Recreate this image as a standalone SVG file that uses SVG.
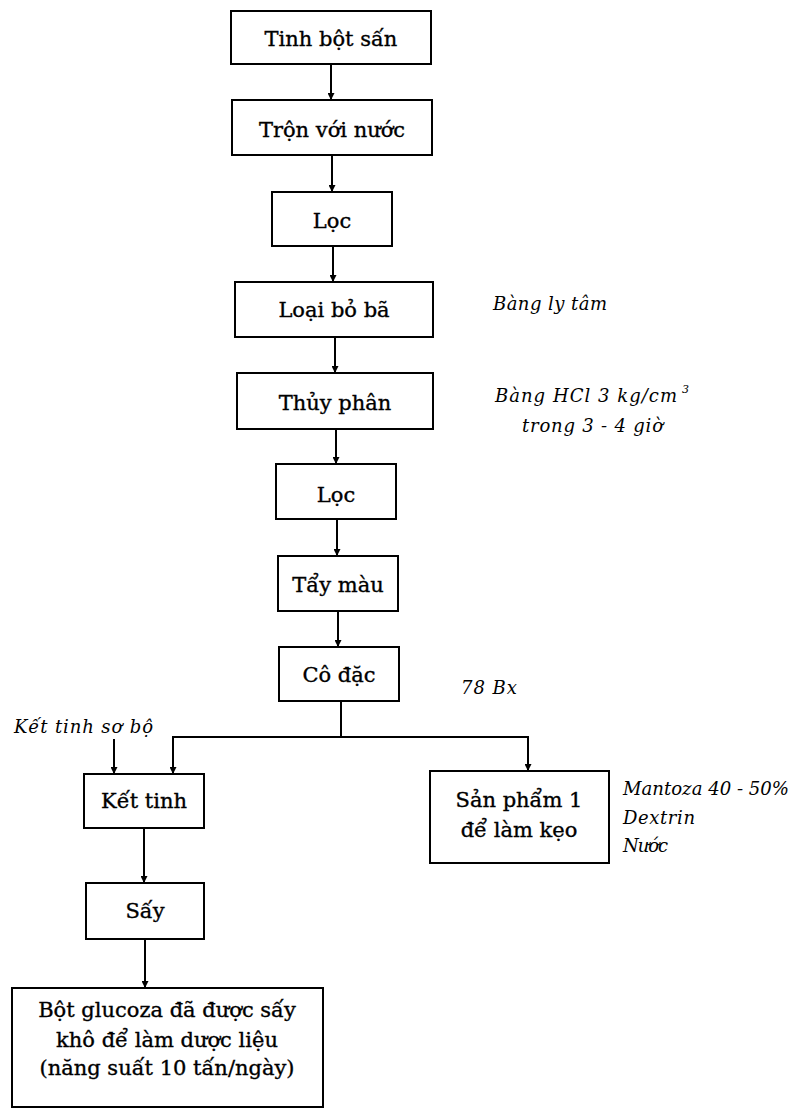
<svg xmlns="http://www.w3.org/2000/svg" width="794" height="1117" viewBox="0 0 794 1117">
<style>
.box{fill:#fff;stroke:#000;stroke-width:2}
.t{font-family:"DejaVu Serif","Liberation Serif",serif;font-size:21px;fill:#000;stroke:#000;stroke-width:0.35;text-anchor:middle}
.a{font-family:"DejaVu Serif","Liberation Serif",serif;font-style:italic;font-size:18px;fill:#000}
.sup{font-family:"DejaVu Serif","Liberation Serif",serif;font-style:italic;font-size:11px;fill:#000}
.c{fill:none;stroke:#000;stroke-width:2}
</style>
<defs>
<marker id="ar" viewBox="0 0 10 10" refX="10" refY="5" markerWidth="7" markerHeight="7" markerUnits="userSpaceOnUse" orient="auto">
<path d="M0,0 L10,5 L0,10 z" fill="#000"/>
</marker>
</defs>
<g id="connectors">
<path class="c" d="M331,64 V100" marker-end="url(#ar)"/>
<path class="c" d="M332,155 V192" marker-end="url(#ar)"/>
<path class="c" d="M333,246 V282" marker-end="url(#ar)"/>
<path class="c" d="M335,337 V373" marker-end="url(#ar)"/>
<path class="c" d="M336,429 V464" marker-end="url(#ar)"/>
<path class="c" d="M337,519 V556" marker-end="url(#ar)"/>
<path class="c" d="M338,611 V647" marker-end="url(#ar)"/>
<path class="c" d="M341,701 V737"/>
<path class="c" d="M341,737 H173 V774" marker-end="url(#ar)"/>
<path class="c" d="M341,737 H528 V771" marker-end="url(#ar)"/>
<path class="c" d="M114,739 V774" marker-end="url(#ar)"/>
<path class="c" d="M144,828 V883" marker-end="url(#ar)"/>
<path class="c" d="M145,939 V988" marker-end="url(#ar)"/>
</g>
<g id="n1"><rect class="box" x="231" y="11" width="200" height="53"/><text class="t" x="331" y="46">Tinh bột sấn</text></g>
<g id="n2"><rect class="box" x="232" y="100" width="200" height="55"/><text class="t" x="332" y="137">Trộn với nước</text></g>
<g id="n3"><rect class="box" x="272" y="192" width="120" height="54"/><text class="t" x="332" y="228">Lọc</text></g>
<g id="n4"><rect class="box" x="235" y="282" width="198" height="55"/><text class="t" x="334" y="317">Loại bỏ bã</text></g>
<g id="n5"><rect class="box" x="237" y="373" width="196" height="56"/><text class="t" x="335" y="410">Thủy phân</text></g>
<g id="n6"><rect class="box" x="276" y="464" width="120" height="55"/><text class="t" x="336" y="502">Lọc</text></g>
<g id="n7"><rect class="box" x="278" y="556" width="120" height="55"/><text class="t" x="338" y="592">Tẩy màu</text></g>
<g id="n8"><rect class="box" x="279" y="647" width="120" height="54"/><text class="t" x="339" y="682">Cô đặc</text></g>
<g id="n9"><rect class="box" x="84" y="774" width="120" height="54"/><text class="t" x="144" y="808">Kết tinh</text></g>
<g id="n10"><rect class="box" x="86" y="883" width="118" height="56"/><text class="t" x="145" y="918">Sấy</text></g>
<g id="n11"><rect class="box" x="12" y="988" width="311" height="119"/>
<text class="t" x="167" y="1017">Bột glucoza đã được sấy</text>
<text class="t" x="167" y="1047">khô để làm dược liệu</text>
<text class="t" x="167" y="1075">(năng suất 10 tấn/ngày)</text></g>
<g id="n12"><rect class="box" x="430" y="771" width="179" height="92"/>
<text class="t" x="519" y="807">Sản phẩm 1</text>
<text class="t" x="519" y="837">để làm kẹo</text></g>
<g id="annotations">
<text class="a" x="493" y="310" textLength="114" lengthAdjust="spacing">Bàng ly tâm</text>
<text class="a" x="495" y="402" textLength="182" lengthAdjust="spacing">Bàng HCl 3 kg/cm</text>
<text class="sup" x="682" y="393">3</text>
<text class="a" x="522" y="432" textLength="141" lengthAdjust="spacing">trong 3 - 4 giờ</text>
<text class="a" x="461" y="694" textLength="56" lengthAdjust="spacing">78 Bx</text>
<text class="a" x="14" y="733" textLength="139" lengthAdjust="spacing">Kết tinh sơ bộ</text>
<text class="a" x="623" y="795" textLength="166" lengthAdjust="spacingAndGlyphs">Mantoza 40 - 50%</text>
<text class="a" x="623" y="824" textLength="72" lengthAdjust="spacing">Dextrin</text>
<text class="a" x="623" y="852" textLength="45" lengthAdjust="spacing">Nước</text>
</g>
</svg>
